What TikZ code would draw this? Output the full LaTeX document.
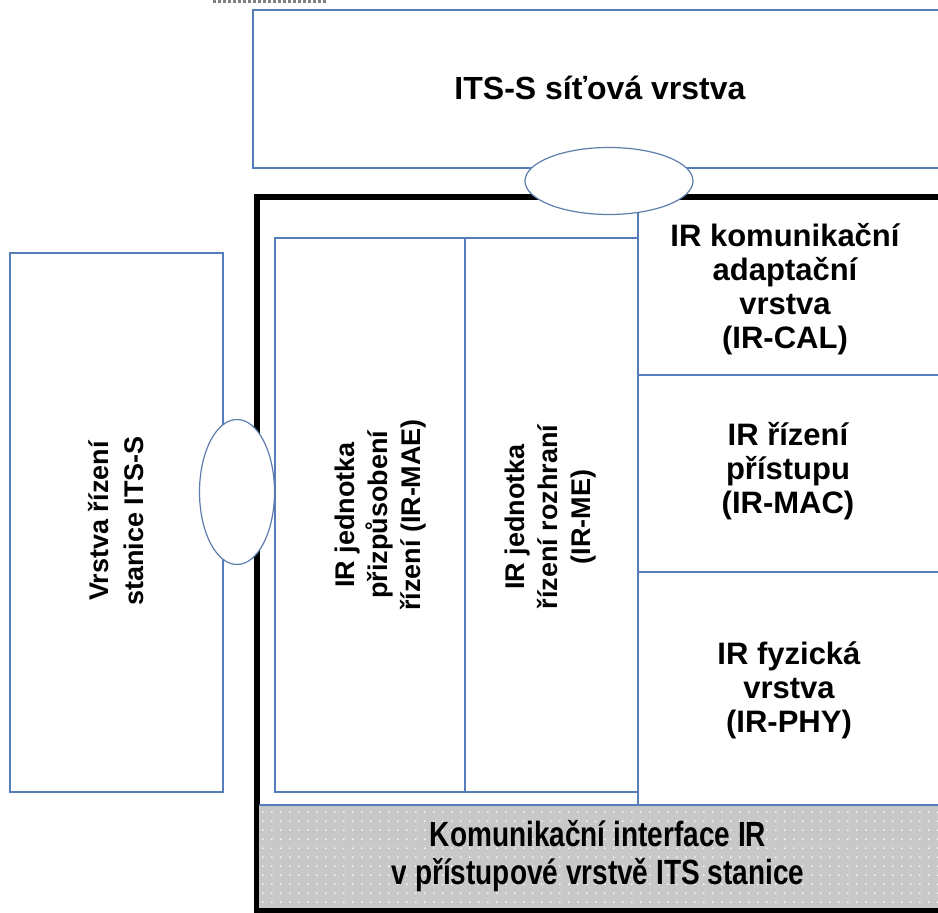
\documentclass[tikz,border=0pt]{standalone}
\usepackage{fontspec}
\setmainfont{Liberation Sans}
\newfontfamily\narrowsans{Liberation Sans}[FakeStretch=0.8]
\usetikzlibrary{shapes.geometric,patterns.meta}

\definecolor{layerblue}{RGB}{84,125,185}
\definecolor{bandgray}{RGB}{200,200,200}

\tikzdeclarepattern{
  name=banddots,
  type=uncolored,
  bounding box={(0pt,0pt) and (4.5pt,4.5pt)},
  tile size={(4.5pt,4.5pt)},
  code={\fill (1pt,1pt) circle (0.5pt);}
}

\tikzset{
  layer/.style={draw=layerblue, line width=0.6pt},
  port/.style={ellipse, draw=layerblue!80!gray, line width=0.6pt, fill=white, inner sep=0pt},
  txt/.style={font=\bfseries\fontsize{15.5}{17}\selectfont, align=center, inner sep=0pt},
  vtxt/.style={font=\bfseries\fontsize{13.5}{16.5}\selectfont, align=center, inner sep=0pt, rotate=90}
}

\begin{document}
\begin{tikzpicture}[x=0.5pt,y=-0.5pt]
        \useasboundingbox (0,0) rectangle (938,913);
        \clip (0,0) rectangle (938,913);
        \fill[white] (0,0) rectangle (938,913);

        % cut-off dotted line at the top
        \draw[gray, line width=1.5pt, dash pattern=on 1.5pt off 1pt] (213,2) -- (328,2);

        % network layer
        \draw[layer] (253,10) rectangle (960,168);

        % IR access layer frame
        \draw[black, line width=3pt] (257,197) rectangle (960,910);
        \fill[bandgray] (259,805) rectangle (960,908);
        \fill[pattern=banddots, pattern color=white] (259,805) rectangle (960,908);
        \draw[layer] (259,805) -- (960,805);
        \draw[layer] (638,199) -- (638,805);
        \draw[layer] (638,375) -- (960,375);
        \draw[layer] (638,572) -- (960,572);
        \draw[layer] (275,238) rectangle (638,792);
        \draw[layer] (465,238) -- (465,792);

        % station management
        \draw[layer] (10,253) rectangle (223,792);

        % SAPs
        \node[port, minimum width=84pt, minimum height=33.5pt] (netport) at (609,181) {};
        \node[port, minimum width=37.5pt, minimum height=72.5pt] (mgmtport) at (237,492) {};

        % labels
        \node[txt, font=\bfseries\fontsize{16}{19}\selectfont] (net) at (600,88) {ITS-S síťová vrstva};
        \node[txt] (cal) at (785,289) {IR komunikační\\adaptační\\vrstva\\(IR-CAL)};
        \node[txt] (mac) at (788,471) {IR řízení\\přístupu\\(IR-MAC)};
        \node[txt] (phy) at (789,690) {IR fyzická\\vrstva\\(IR-PHY)};
        \node[vtxt] (mae) at (381,515) {IR jednotka\\přizpůsobení\\řízení (IR-MAE)};
        \node[vtxt] (me) at (551,517) {IR jednotka\\řízení rozhraní\\(IR-ME)};
        \node[vtxt, font=\bfseries\fontsize{13.5}{17.5}\selectfont] (mgmt) at (116,521) {Vrstva řízení\\stanice ITS-S};
        \node[txt, font=\narrowsans\bfseries\fontsize{17.5}{19}\selectfont] (ci) at (598,856) {Komunikační interface IR\\v přístupové vrstvě ITS stanice};
\end{tikzpicture}
\end{document}
